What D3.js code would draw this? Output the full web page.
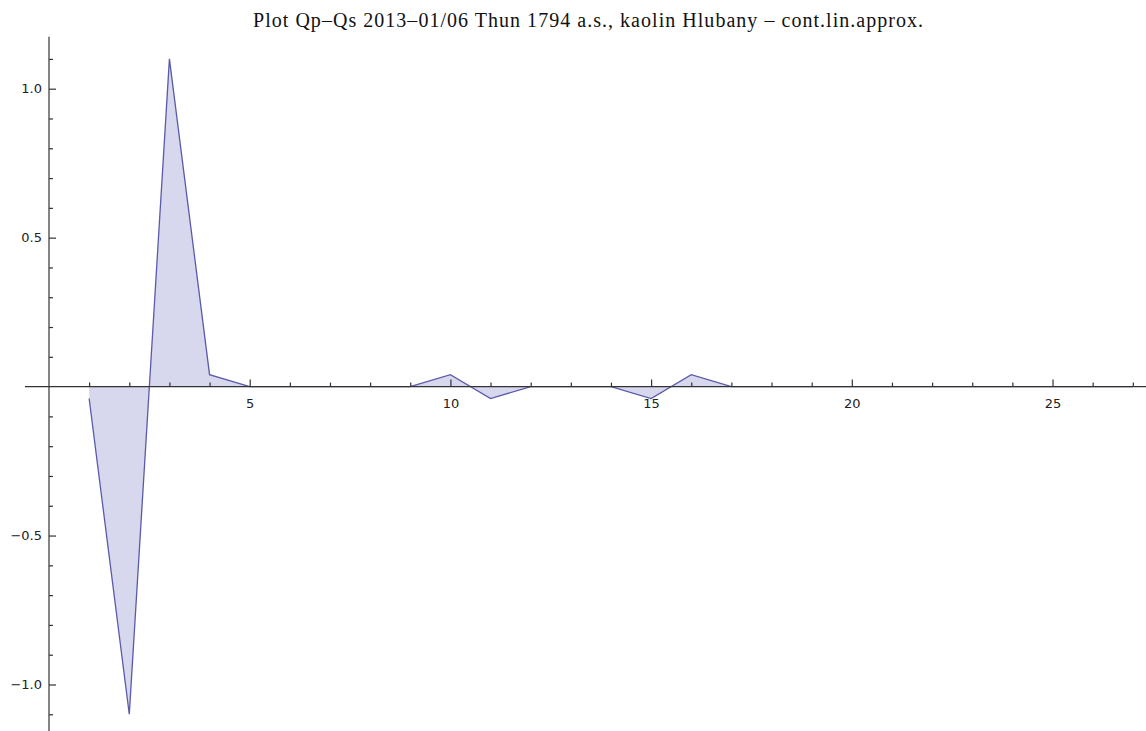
<!DOCTYPE html>
<html>
<head>
<meta charset="utf-8">
<script src="https://cdn.jsdelivr.net/npm/d3@7"></script>
<style>
  html, body { margin: 0; padding: 0; background: #fff; }
  svg { display: block; }
  .axis text { font-family: "DejaVu Sans", sans-serif; font-size: 13px; fill: #222; }
  .axis line { stroke: #333; stroke-width: 1.2; }
  .axis path.domain { display: none; }
</style>
</head>
<body>
<svg id="chart" width="1146" height="731"></svg>
<script>
// Qp - Qs differences per step
const steps = [1, 2, 3, 4, 5, 6, 7, 8, 9, 10, 11, 12, 13, 14, 15, 16, 17, 18, 19, 20, 21, 22, 23, 24, 25, 26, 27];
const diffs = [-0.04, -1.10, 1.10, 0.04, 0, 0, 0, 0, 0, 0.04, -0.04, 0, 0, 0, -0.04, 0.04, 0, 0, 0, 0, 0, 0, 0, 0, 0, 0, 0];
const xMajorTicks = [5, 10, 15, 20, 25];
const xMinorTicks = [1, 2, 3, 4, 6, 7, 8, 9, 11, 12, 13, 14, 16, 17, 18, 19, 21, 22, 23, 24, 26, 27];
const yMajorTicks = [-1.0, -0.5, 0.5, 1.0];
const yMinorTicks = [-1.1, -0.9, -0.8, -0.7, -0.6, -0.4, -0.3, -0.2, -0.1, 0.1, 0.2, 0.3, 0.4, 0.6, 0.7, 0.8, 0.9, 1.1];
const titleText = "Plot Qp\u2013Qs 2013\u201301/06 Thun 1794 a.s., kaolin Hlubany \u2013 cont.lin.approx.";

const svg = d3.select("#chart");

const x = d3.scaleLinear().domain([0, 27]).range([49, 1132.8]);
const y = d3.scaleLinear().domain([-1, 1]).range([684.5, 88.7]);

const data = steps.map((s, i) => ({ s, v: diffs[i] }));

// filled area between the curve and the axis
svg.append("path")
  .datum(data)
  .attr("fill", "#d7d7ee")
  .attr("d", d3.area().x(d => x(d.s)).y0(y(0)).y1(d => y(d.v)));

// curve
svg.append("path")
  .datum(data)
  .attr("fill", "none")
  .attr("stroke", "#5a5aaa")
  .attr("stroke-width", 1.3)
  .attr("stroke-linejoin", "miter")
  .attr("d", d3.line().x(d => x(d.s)).y(d => y(d.v)));

// x axis
const xg = svg.append("g").attr("class", "axis").attr("transform", `translate(0,${y(0)})`);
xg.append("line").attr("x1", x(-0.6)).attr("x2", 1146).attr("y1", 0).attr("y2", 0);
xg.append("g").call(d3.axisBottom(x).tickValues(xMinorTicks).tickSizeInner(-4).tickSizeOuter(0).tickFormat(""));
xg.append("g").call(d3.axisBottom(x).tickValues(xMajorTicks).tickSizeInner(-7).tickSizeOuter(0).tickPadding(12).tickFormat(d3.format("d")));

// y axis
const yg = svg.append("g").attr("class", "axis").attr("transform", `translate(${x(0)},0)`);
yg.append("line").attr("x1", 0).attr("x2", 0).attr("y1", y(1.174)).attr("y2", 731);
yg.append("g").call(d3.axisLeft(y).tickValues(yMinorTicks).tickSizeInner(-4).tickSizeOuter(0).tickFormat(""));
yg.append("g").call(d3.axisLeft(y).tickValues(yMajorTicks).tickSizeInner(-7).tickSizeOuter(0).tickPadding(7).tickFormat(d3.format(".1f")));

// title
svg.append("text")
  .attr("x", 253)
  .attr("y", 27)
  .attr("textLength", 670)
  .attr("lengthAdjust", "spacing")
  .attr("font-family", "'Liberation Serif', 'Times New Roman', serif")
  .attr("font-size", 20)
  .attr("fill", "#111")
  .text(titleText);
</script>
</body>
</html>
